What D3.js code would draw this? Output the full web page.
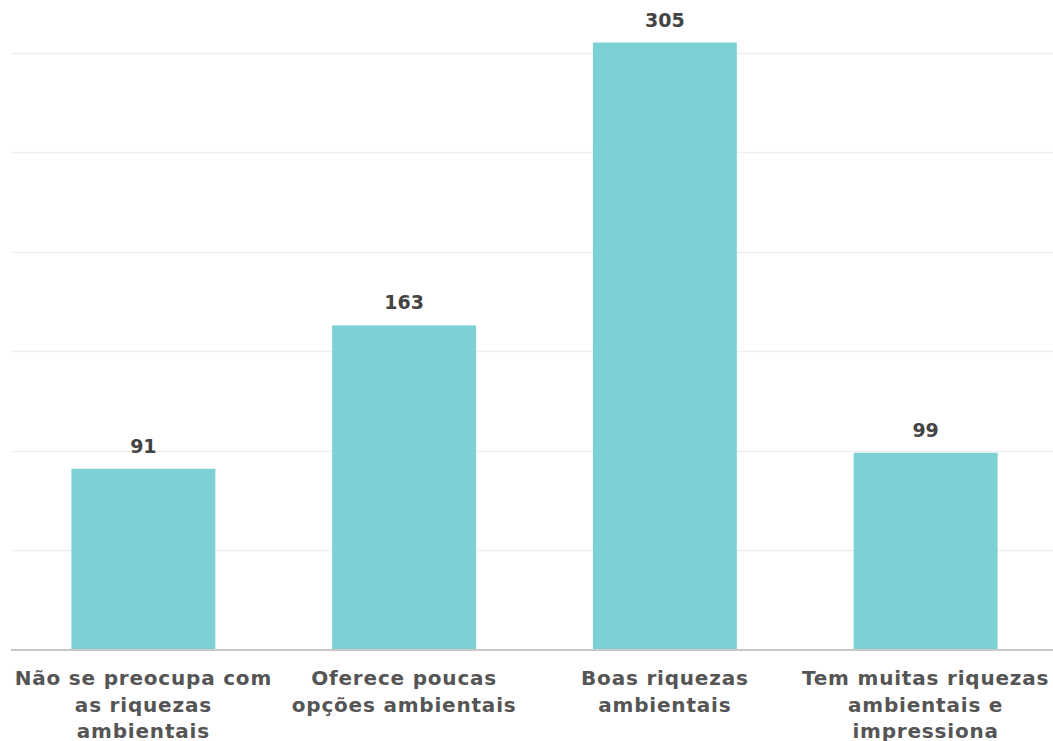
<!DOCTYPE html>
<html><head><meta charset="utf-8">
<script src="https://cdn.jsdelivr.net/npm/d3@7"></script>
<style>body{margin:0;background:#fff}svg{display:block}</style>
</head><body>
<script>
const categories = ["Não se preocupa com as riquezas ambientais","Oferece poucas opções ambientais","Boas riquezas ambientais","Tem muitas riquezas ambientais e impressiona"];
const labelLines = [["Não se preocupa com","as riquezas","ambientais"],["Oferece poucas","opções ambientais"],["Boas riquezas","ambientais"],["Tem muitas riquezas","ambientais e","impressiona"]];
const values = [91,163,305,99];
const yTicks = [0,50,100,150,200,250,300];

const W=1053,H=741;
const svg=d3.select("body").append("svg").attr("width",W).attr("height",H);
const x=d3.scaleBand().domain(categories).range([13,1056]).paddingInner(0.448).paddingOuter(0.224);
const y=d3.scaleLinear().domain([0,300]).range([650,52.5]);
const font="'DejaVu Sans', sans-serif";

svg.append("g").selectAll("line").data(yTicks.filter(d=>d>0)).join("line")
 .attr("x1",11).attr("x2",W).attr("y1",d=>Math.round(y(d))+0.5).attr("y2",d=>Math.round(y(d))+0.5)
 .attr("stroke","#efefef").attr("stroke-width",1.5);

svg.append("g").selectAll("rect").data(values).join("rect")
 .attr("x",(d,i)=>x(categories[i])).attr("width",x.bandwidth())
 .attr("y",d=>y(d)).attr("height",d=>y(0)-y(d)).attr("fill","#7dd1d5");

svg.append("line").attr("x1",11).attr("x2",W).attr("y1",y(0)).attr("y2",y(0)).attr("stroke","#c8c8c8").attr("stroke-width",2);

svg.append("g").selectAll("text").data(values).join("text")
 .attr("x",(d,i)=>x(categories[i])+x.bandwidth()/2).attr("y",d=>y(d)-16)
 .attr("text-anchor","middle").attr("font-family",font).attr("font-weight","bold").attr("font-size",19)
 .attr("fill","#444").text(d=>d);

const lg=svg.append("g");
categories.forEach((c,i)=>{
  const t=lg.append("text").attr("text-anchor","middle").attr("font-family",font).attr("font-weight","bold")
   .attr("font-size",20).attr("letter-spacing",0.8).attr("fill","#555");
  labelLines[i].forEach((l,j)=>{
    t.append("tspan").attr("x",x(c)+x.bandwidth()/2).attr("y",685+j*26.5).text(l);
  });
});
</script>
</body></html>
